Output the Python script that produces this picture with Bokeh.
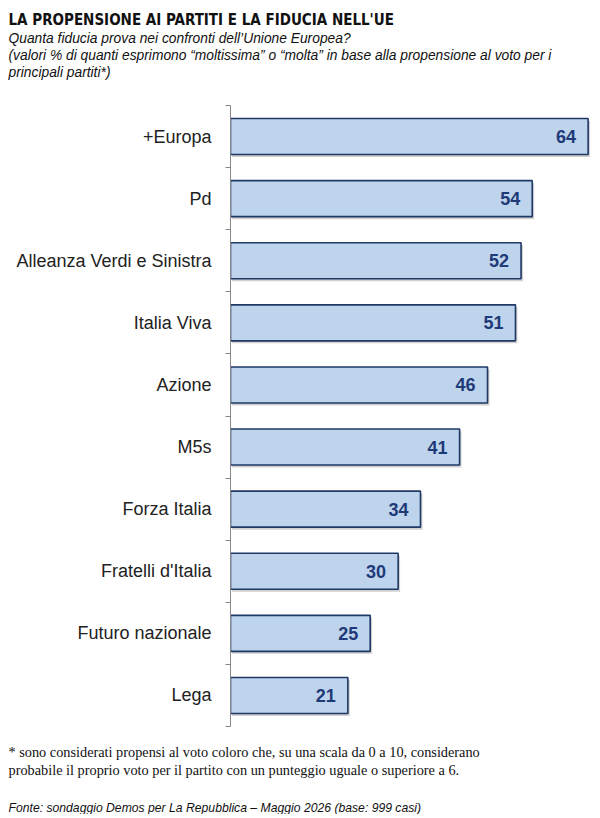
from bokeh.plotting import figure
from bokeh.models import ColumnDataSource, FixedTicker, Range1d, Title, LabelSet
from bokeh.core.properties import value
from bokeh.embed import file_html
from bokeh.resources import INLINE

parties = ["+Europa", "Pd", "Alleanza Verdi e Sinistra", "Italia Viva", "Azione",
           "M5s", "Forza Italia", "Fratelli d'Italia", "Futuro nazionale", "Lega"]
values = [64, 54, 52, 51, 46, 41, 34, 30, 25, 21]

title = "LA PROPENSIONE AI PARTITI E LA FIDUCIA NELL'UE"
subtitle = ["Quanta fiducia prova nei confronti dell\u2019Unione Europea?",
            "(valori % di quanti esprimono \u201cmoltissima\u201d o \u201cmolta\u201d in base alla propensione al voto per i",
            "principali partiti*)"]
footnote = ["* sono considerati propensi al voto coloro che, su una scala da 0 a 10, considerano",
            "   probabile il proprio voto per il partito con un punteggio uguale o superiore a 6."]
source_note = "Fonte: sondaggio Demos per La Repubblica \u2013 Maggio 2026 (base: 999 casi)"

n = len(parties)
ypos = [n - 0.5 - i for i in range(n)]

W, H = 596, 814
ML, MR = 230, 0
XMAX = 65.5

p = figure(width=W, height=H, output_backend="svg", toolbar_location=None,
           x_range=Range1d(0, XMAX), y_range=Range1d(0, n),
           min_border_left=ML, min_border_right=MR, min_border_top=0, min_border_bottom=0)
p.outline_line_color = None
p.grid.visible = False
p.xaxis.visible = False
p.background_fill_color = "white"

src = ColumnDataSource(dict(y=ypos, v=values, name=parties,
                            lab=[str(v) for v in values],
                            ys=[y - 0.04 for y in ypos],
                            vs=[v + 0.35 for v in values]))

# shadow
p.hbar(y="ys", right="vs", left=0.3, height=0.58, source=src,
       fill_color="#9a9a9a", fill_alpha=0.45, line_color=None)
p.hbar(y="y", right="v", left=0, height=0.58, source=src,
       fill_color="#bed4ec", line_color="#1f3864", line_width=1.6)

labels = LabelSet(x="v", y="y", text="lab", source=src, x_offset=-12,
                  text_align="right", text_baseline="middle",
                  text_font=value("Liberation Sans"), text_font_size=value("18px"),
                  text_font_style="bold", text_color="#1f3a78")
p.add_layout(labels)

ax = p.yaxis[0]
ax.ticker = FixedTicker(ticks=ypos, minor_ticks=list(range(n + 1)))
ax.major_label_overrides = {y: name for y, name in zip(ypos, parties)}
ax.major_tick_line_color = None
ax.major_tick_out = 0
ax.major_tick_in = 0
ax.minor_tick_out = 5
ax.minor_tick_in = 0
ax.minor_tick_line_color = "#888888"
ax.axis_line_color = "#888888"
ax.major_label_standoff = 14
ax.major_label_text_font = "Liberation Sans"
ax.major_label_text_font_size = "18px"
ax.major_label_text_color = "#222222"


def mk(txt, size, font="Liberation Sans", style="normal", standoff=0):
    return Title(text=txt, align="left", offset=-(ML - 8), standoff=standoff,
                 text_font=font, text_font_size=size, text_font_style=style,
                 text_color="#111111")


def spacer(h):
    return Title(text=" ", text_font_size="1px", standoff=h)


# above: first added is closest to the frame
p.add_layout(spacer(23), "above")
p.add_layout(mk(subtitle[2], "13.8px", style="italic"), "above")
p.add_layout(mk(subtitle[1], "13.8px", style="italic"), "above")
p.add_layout(mk(subtitle[0], "13.8px", style="italic"), "above")
p.add_layout(mk(title, "15px", font="DejaVu Sans Condensed", style="bold"), "above")
p.add_layout(spacer(5), "above")

# below: first added is closest to the frame
p.add_layout(spacer(12), "below")
p.add_layout(mk(footnote[0], "14.3px", font="Liberation Serif"), "below")
p.add_layout(mk(footnote[1], "14.3px", font="Liberation Serif"), "below")
p.add_layout(spacer(18), "below")
p.add_layout(mk(source_note, "12.2px", style="italic"), "below")

open("out.html", "w").write(file_html(p, INLINE))
